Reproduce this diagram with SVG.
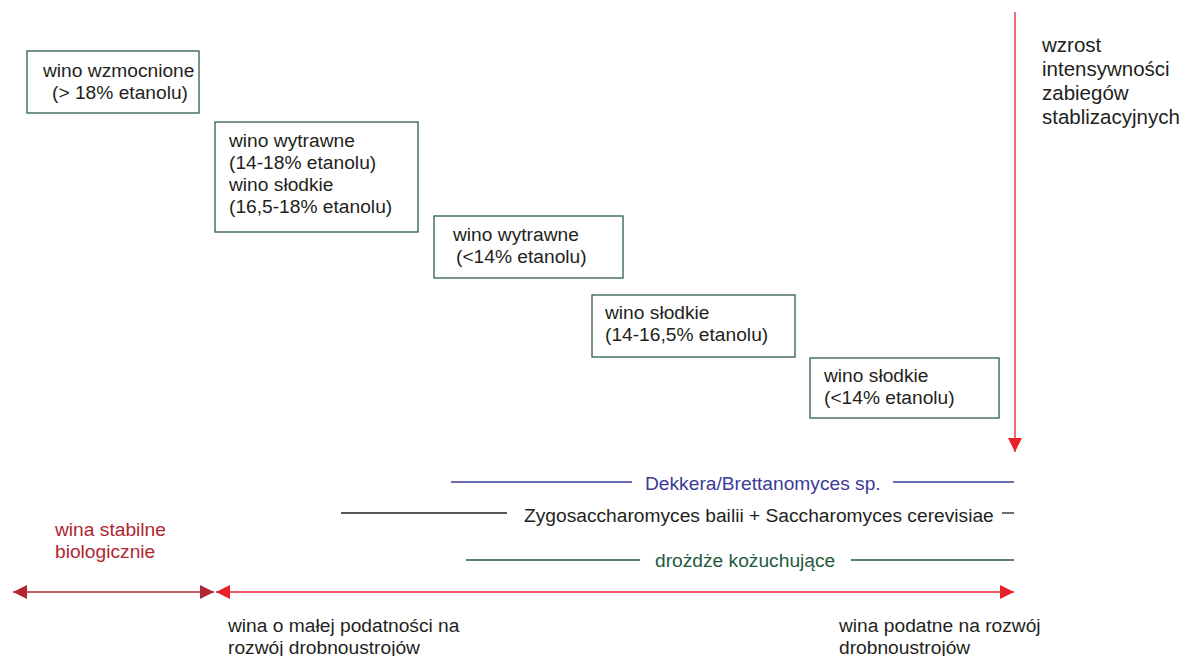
<svg xmlns="http://www.w3.org/2000/svg" width="1183" height="656" viewBox="0 0 1183 656">
<style>
text{font-family:"Liberation Sans",Arial,sans-serif;font-size:19.2px;fill:#231f20}
.box{fill:#fff;stroke:#2e5e4a;stroke-width:1.3}
.blue{fill:#3b3b98}
.green{fill:#1f5a40}
.dred{fill:#b02632}
.big{font-size:20.5px}
</style>
<defs>
<marker id="ar" viewBox="0 0 10 10" refX="10" refY="5" markerWidth="14" markerHeight="14" markerUnits="userSpaceOnUse" orient="auto-start-reverse"><path d="M0,0 L10,5 L0,10 z" fill="#e8202a"/></marker>
<marker id="ad" viewBox="0 0 10 10" refX="10" refY="5" markerWidth="14" markerHeight="14" markerUnits="userSpaceOnUse" orient="auto-start-reverse"><path d="M0,0 L10,5 L0,10 z" fill="#b02632"/></marker>
</defs>
<rect width="1183" height="656" fill="#fff"/>
<g id="connectors">
<line x1="1015" y1="12" x2="1015" y2="452" stroke="#e8202a" stroke-width="1.3" marker-end="url(#ar)"/>
<line x1="451" y1="482" x2="632" y2="482" stroke="#3b3b98" stroke-width="1.3"/>
<line x1="893" y1="482" x2="1014" y2="482" stroke="#3b3b98" stroke-width="1.3"/>
<line x1="341" y1="513" x2="507" y2="513" stroke="#231f20" stroke-width="1.3"/>
<line x1="1002" y1="513" x2="1014" y2="513" stroke="#231f20" stroke-width="1.3"/>
<line x1="466" y1="560" x2="640" y2="560" stroke="#1f5a40" stroke-width="1.3"/>
<line x1="851" y1="560" x2="1014" y2="560" stroke="#1f5a40" stroke-width="1.3"/>
<line x1="13" y1="592" x2="214" y2="592" stroke="#b02632" stroke-width="1.3" marker-start="url(#ad)" marker-end="url(#ad)"/>
<line x1="216" y1="592" x2="1014" y2="592" stroke="#e8202a" stroke-width="1.3" marker-start="url(#ar)" marker-end="url(#ar)"/>
</g>
<g id="n1"><rect class="box" x="27" y="51" width="172" height="62"/><text x="43" y="77">wino wzmocnione</text><text x="52" y="99">(&gt; 18% etanolu)</text></g>
<g id="n2"><rect class="box" x="215" y="122" width="203" height="110"/><text x="229" y="147">wino wytrawne</text><text x="229" y="169">(14-18% etanolu)</text><text x="229" y="191">wino słodkie</text><text x="229" y="213">(16,5-18% etanolu)</text></g>
<g id="n3"><rect class="box" x="434" y="216" width="189" height="62"/><text x="453" y="241">wino wytrawne</text><text x="456" y="263">(&lt;14% etanolu)</text></g>
<g id="n4"><rect class="box" x="592" y="295" width="203" height="62"/><text x="605" y="319">wino słodkie</text><text x="605" y="341">(14-16,5% etanolu)</text></g>
<g id="n5"><rect class="box" x="810" y="358" width="189" height="60"/><text x="824" y="382">wino słodkie</text><text x="824" y="404">(&lt;14% etanolu)</text></g>
<g id="n6"><text class="big" x="1042" y="52">wzrost</text><text class="big" x="1042" y="76">intensywności</text><text class="big" x="1042" y="100">zabiegów</text><text class="big" x="1042" y="124">stablizacyjnych</text></g>
<g id="n7"><text class="blue" x="645" y="490">Dekkera/Brettanomyces sp.</text></g>
<g id="n8"><text x="524" y="522">Zygosaccharomyces bailii + Saccharomyces cerevisiae</text></g>
<g id="n9"><text class="green" x="655" y="567">drożdże  kożuchujące</text></g>
<g id="n10"><text class="dred" x="55" y="536">wina stabilne</text><text class="dred" x="55" y="558">biologicznie</text></g>
<g id="n11"><text x="228" y="632">wina o małej podatności na</text><text x="228" y="654">rozwój drobnoustrojów</text></g>
<g id="n12"><text x="839" y="632">wina podatne na rozwój</text><text x="839" y="654">drobnoustrojów</text></g>
</svg>
